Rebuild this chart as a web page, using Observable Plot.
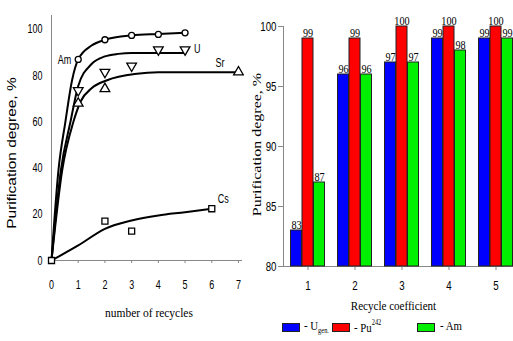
<!DOCTYPE html>
<html><head><meta charset="utf-8">
<script src="https://cdn.jsdelivr.net/npm/d3@7"></script>
<script src="https://cdn.jsdelivr.net/npm/@observablehq/plot@0.6"></script>
<style>
html,body{margin:0;padding:0;background:#fff;overflow:hidden}
#wrap{position:relative;width:513px;height:341px;overflow:hidden;background:#fff}
#left{position:absolute;left:0;top:0;width:244px;height:341px}
#right{position:absolute;left:244px;top:0;width:277px;height:341px}
#wrap svg{max-width:none !important;display:block}
.lg-box{position:absolute;top:323px;width:18px;height:9px;border:1px solid #222;box-sizing:border-box}
.lg-txt{position:absolute;top:318px;font-family:"Liberation Serif","Times New Roman",serif;font-size:13.5px;color:#000;transform:scaleX(0.8);transform-origin:left center;white-space:nowrap}
.lg-txt sub{font-size:8px;vertical-align:-3px}
.lg-txt sup{font-size:8px;vertical-align:7px}
</style></head><body>
<div id="wrap"><div id="left"></div><div id="right"></div><div id="legend"></div></div>
<script>
// ---------- Left chart: purification vs number of recycles ----------
const xTicksL = [0, 1, 2, 3, 4, 5, 6, 7];
const yTicksL = [0, 20, 40, 60, 80, 100];
// measured points
const amX = [1, 2, 3, 4, 5];
const amY = [87, 95.5, 97.4, 97.8, 98.5];
const uX = [1, 2, 3, 4, 5];
const uY = [73.6, 81.5, 84.2, 91.2, 91.2];
const srX = [1, 2, 7];
const srY = [68, 74.3, 81.5];
const csX = [0, 2, 3, 6];
const csY = [0, 17, 12.7, 22.4];
// smooth trend curves
const amCurveX = [0, 0.26, 0.52, 0.77, 1, 1.5, 2, 3, 4, 5];
const amCurveY = [0, 39, 60, 78, 87, 93, 95.5, 97.4, 98, 98.5];
const uCurveX = [0, 0.35, 0.71, 1, 1.5, 2, 2.5, 3, 5];
const uCurveY = [0, 39, 60, 75.5, 85, 88.3, 89.4, 89.8, 89.8];
const srCurveX = [0, 0.4, 0.82, 1.1, 1.5, 2.08, 3.2, 4, 7];
const srCurveY = [0, 39, 60, 69, 74.5, 78, 80.8, 81.4, 81.5];
const csCurveX = [0, 1, 2, 3, 4, 5, 6];
const csCurveY = [0, 6.5, 13.7, 17.3, 19.5, 20.9, 22.4];
const leftLabels = {am: "Am", u: "U", sr: "Sr", cs: "Cs"};
const leftXTitle = "number of recycles";
const leftYTitle = "Purification degree, %";

// ---------- Right chart: purification vs recycle coefficient ----------
const cats = ["1", "2", "3", "4", "5"];
const uGen = [83, 96, 97, 99, 99];
const pu242 = [99, 99, 100, 100, 100];
const amR = [87, 96, 97, 98, 99];
const yTicksR = [80, 85, 90, 95, 100];
const rightXTitle = "Recycle coefficient";
const rightYTitle = "Purification degree, %";

const zip = (xs, ys) => xs.map((x, i) => ({x, y: ys[i]}));
const SANS = "Liberation Sans, Arial, sans-serif";
const SERIF = "Liberation Serif, Times New Roman, serif";

const triangleDown = {
  draw(context, size) {
    const s3 = Math.sqrt(3);
    const y = -Math.sqrt(size / (s3 * 3));
    context.moveTo(0, -y * 2);
    context.lineTo(-s3 * y, y);
    context.lineTo(s3 * y, y);
    context.closePath();
  }
};

const mk = {fill: "white", stroke: "black", strokeWidth: 1.3};
const lineOpt = {x: "x", y: "y", curve: "monotone-x", stroke: "black", strokeWidth: 2};
const amPts = zip(amX, amY), uPts = zip(uX, uY), srPts = zip(srX, srY), csPts = zip(csX, csY);

const left = Plot.plot({
  width: 244, height: 341,
  marginLeft: 51, marginRight: 2, marginTop: 15, marginBottom: 81,
  style: {background: "#fff", color: "#000"},
  x: {domain: [0, 7.15], label: null},
  y: {domain: [0, 106], label: null},
  marks: [
    Plot.ruleX([0], {stroke: "#888"}),
    Plot.ruleY([0], {stroke: "#888"}),
    Plot.axisY({ticks: yTicksL, tickSize: 0, tickPadding: 9, fontSize: 12.5, fontFamily: SANS, label: null}),
    Plot.axisX({ticks: xTicksL, tickSize: 3, tickPadding: 17, fontSize: 12.5, fontFamily: SANS, stroke: "#888", label: null}),
    Plot.line(zip(amCurveX, amCurveY), lineOpt),
    Plot.line(zip(uCurveX, uCurveY), lineOpt),
    Plot.line(zip(srCurveX, srCurveY), lineOpt),
    Plot.line(zip(csCurveX, csCurveY), lineOpt),
    Plot.dot(amPts, {x: "x", y: "y", symbol: "circle", r: 3, ...mk}),
    Plot.dot(uPts, {x: "x", y: "y", symbol: triangleDown, r: 3.6, ...mk}),
    Plot.dot(srPts, {x: "x", y: "y", symbol: "triangle", r: 3.6, ...mk}),
    Plot.dot(csPts, {x: "x", y: "y", symbol: "square", r: 3.4, ...mk}),
    Plot.text(amPts, Plot.selectFirst({x: "x", y: "y", text: () => leftLabels.am, dx: -7, dy: 1, textAnchor: "end", fontSize: 12.5, fontFamily: SANS})),
    Plot.text(uPts, Plot.selectLast({x: "x", y: "y", text: () => leftLabels.u, dx: 9, dy: -1, textAnchor: "start", fontSize: 12.5, fontFamily: SANS})),
    Plot.text(srPts, Plot.selectLast({x: "x", y: "y", text: () => leftLabels.sr, dx: -14, dy: -9, textAnchor: "end", fontSize: 12.5, fontFamily: SANS})),
    Plot.text(csPts, Plot.selectLast({x: "x", y: "y", text: () => leftLabels.cs, dx: 6, dy: -10, textAnchor: "start", fontSize: 12.5, fontFamily: SANS})),
    Plot.text([leftXTitle], {frameAnchor: "bottom", lineAnchor: "middle", textAnchor: "middle", dy: 52, dx: 2, fontSize: 13.5, fontFamily: SERIF}),
    Plot.text([leftYTitle], {frameAnchor: "left", textAnchor: "middle", lineAnchor: "middle", rotate: -90, dx: -39, dy: 15, fontSize: 15.5, fontFamily: SANS})
  ]
});
document.getElementById("left").append(left);

// ---------- right ----------
const rows = s => cats.map((c, i) => ({cat: c, v: s[i]}));
const series = [
  {vals: uGen, color: "#0000ff", dx: -11.5},
  {vals: pu242, color: "#ff0000", dx: 0},
  {vals: amR, color: "#00f000", dx: 11.5}
];
const right = Plot.plot({
  width: 277, height: 341,
  marginLeft: 39, marginRight: 0, marginTop: 26, marginBottom: 75,
  style: {background: "#fff", color: "#000"},
  x: {type: "band", domain: cats, paddingInner: 0.762, paddingOuter: 0.386, label: null},
  y: {domain: [80, 100], label: null},
  marks: [
    Plot.frame({anchor: "left", stroke: "#888"}),
    Plot.ruleY([80], {stroke: "#888"}),
    Plot.axisY({ticks: yTicksR, tickSize: 5, tickPadding: 2, stroke: "#888", fontSize: 13.5, fontFamily: SANS, label: null}),
    Plot.axisX({tickSize: 4, tickPadding: 10, stroke: "#888", fontSize: 13.5, fontFamily: SANS, label: null}),
    ...series.map(s => Plot.barY(rows(s.vals), {x: "cat", y1: 80, y2: "v", dx: s.dx, fill: s.color, stroke: "#222", strokeWidth: 1})),
    ...series.map(s => Plot.text(rows(s.vals), {x: "cat", y: "v", text: d => String(d.v), dx: s.dx, dy: -2, lineAnchor: "bottom", fontSize: 12, fontFamily: SERIF})),
    Plot.text([rightXTitle], {frameAnchor: "bottom", lineAnchor: "middle", textAnchor: "middle", dy: 39, dx: -9, fontSize: 13, fontFamily: SERIF}),
    Plot.text([rightYTitle], {frameAnchor: "left", textAnchor: "middle", lineAnchor: "middle", rotate: -90, dx: -27, dy: -2, fontSize: 16, fontFamily: SERIF})
  ]
});
document.getElementById("right").append(right);

// horizontally condensed text, like the source picture
function squeeze(svg) {
  svg.querySelectorAll("text").forEach(t => {
    const tr = t.getAttribute("transform");
    if (tr == null) return;
    const g = t.closest("[font-family]");
    const fam = (g && g.getAttribute("font-family")) || "";
    const serif = /Serif/.test(fam);
    const rot = tr.includes("rotate");
    const k = rot ? 0.8 : serif ? 0.85 : 0.72;
    t.setAttribute("transform", tr + (rot ? ` scale(1,${k})` : ` scale(${k},1)`));
  });
}
squeeze(left); squeeze(right);

// legend
const legendItems = [
  {color: "#0000ff", html: "- U<sub>gen.</sub>", box: 282, txt: 304},
  {color: "#ff0000", html: "- Pu<sup>242</sup>", box: 332, txt: 354},
  {color: "#00f000", html: "- Am", box: 417, txt: 440}
];
const lg = document.getElementById("legend");
legendItems.forEach(it => {
  const b = document.createElement("div");
  b.className = "lg-box"; b.style.left = it.box + "px"; b.style.background = it.color;
  const t = document.createElement("div");
  t.className = "lg-txt"; t.style.left = it.txt + "px"; t.innerHTML = it.html;
  lg.append(b, t);
});
</script>
</body></html>
